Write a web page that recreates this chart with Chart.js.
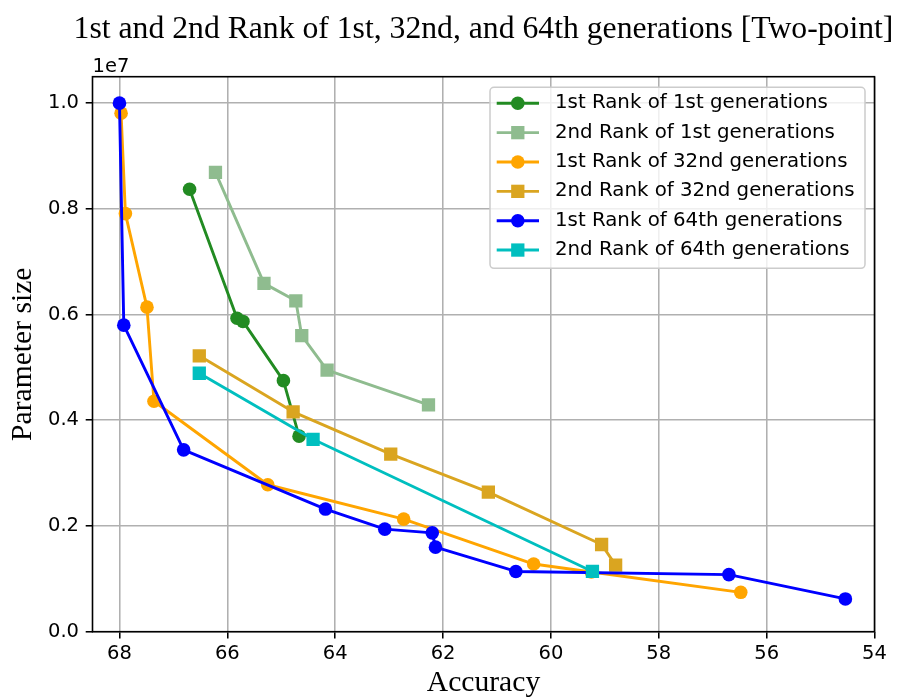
<!DOCTYPE html>
<html><head><meta charset="utf-8">
<script src="https://cdn.jsdelivr.net/npm/chart.js@4/dist/chart.umd.min.js"></script>
<style>html,body{margin:0;padding:0;background:#fff}#wrap{width:898px;height:697px}</style>
</head><body><div id="wrap"><canvas id="c" width="898" height="697"></canvas></div>
<script>
const chartTitle = '1st and 2nd Rank of 1st, 32nd, and 64th generations [Two-point]';
const xAxisLabel = 'Accuracy';
const yAxisLabel = 'Parameter size';
const offsetText = '1e7';
const seriesLabels = [
  '1st Rank of 1st generations',
  '2nd Rank of 1st generations',
  '1st Rank of 32nd generations',
  '2nd Rank of 32nd generations',
  '1st Rank of 64th generations',
  '2nd Rank of 64th generations'
];
const xTicks = [68, 66, 64, 62, 60, 58, 56, 54];
const yTicks = [0, 2000000, 4000000, 6000000, 8000000, 10000000];

const rank1Gen1Acc    = [66.70, 65.82, 65.71, 64.96, 64.67];
const rank1Gen1Params = [8370000, 5930000, 5870000, 4750000, 3700000];
const rank2Gen1Acc    = [66.22, 65.32, 64.73, 64.62, 64.15, 62.27];
const rank2Gen1Params = [8690000, 6590000, 6260000, 5600000, 4950000, 4290000];
const rank1Gen32Acc    = [67.97, 67.89, 67.49, 67.36, 65.25, 62.73, 60.32, 59.25, 56.48];
const rank1Gen32Params = [9810000, 7910000, 6140000, 4360000, 2780000, 2130000, 1280000, 1130000, 745000];
const rank2Gen32Acc    = [66.52, 64.78, 62.97, 61.16, 59.06, 58.80];
const rank2Gen32Params = [5220000, 4160000, 3360000, 2640000, 1650000, 1260000];
const rank1Gen64Acc    = [68.00, 67.92, 66.81, 64.18, 63.08, 62.20, 62.14, 60.65, 56.70, 54.54];
const rank1Gen64Params = [10000000, 5800000, 3440000, 2320000, 1940000, 1870000, 1600000, 1140000, 1080000, 620000];
const rank2Gen64Acc    = [66.52, 64.41, 59.23];
const rank2Gen64Params = [4890000, 3640000, 1140000];

const seriesAcc = [rank1Gen1Acc, rank2Gen1Acc, rank1Gen32Acc, rank2Gen32Acc, rank1Gen64Acc, rank2Gen64Acc];
const seriesParams = [rank1Gen1Params, rank2Gen1Params, rank1Gen32Params, rank2Gen32Params, rank1Gen64Params, rank2Gen64Params];
const seriesColors = ['#228B22', '#8FBC8F', '#FFA500', '#DAA520', '#0000FF', '#00BFBF'];
const seriesMarkers = ['circle', 'rect', 'circle', 'rect', 'circle', 'rect'];

const SANS = "'DejaVu Sans', sans-serif";
const SERIF = "'Liberation Serif', 'Times New Roman', serif";
const CIRCLE_R = 6.8;
const RECT_R = 9.4;

const datasets = seriesLabels.map((lab, i) => ({
  label: lab,
  data: seriesAcc[i].map((x, j) => ({x: x, y: seriesParams[i][j]})),
  borderColor: seriesColors[i],
  backgroundColor: seriesColors[i],
  pointBackgroundColor: seriesColors[i],
  pointBorderWidth: 0,
  pointStyle: seriesMarkers[i],
  pointRadius: seriesMarkers[i] === 'circle' ? CIRCLE_R : RECT_R,
  pointHoverRadius: seriesMarkers[i] === 'circle' ? CIRCLE_R : RECT_R,
  borderWidth: 2.9,
  borderJoinStyle: 'round',
  tension: 0,
  fill: false,
  order: seriesLabels.length - i
}));

// centre the title over the plot area and give it room to its natural width
const titleCenterPlugin = {
  id: 'titleCenter',
  afterLayout(chart) {
    const tb = chart.titleBlock;
    if (!tb) return;
    const a = chart.chartArea;
    const cx = (a.left + a.right) / 2;
    const half = chart.width / 2;
    tb.left = cx - half;
    tb.right = cx + half;
    tb.width = half * 2;
  }
};

const framePlugin = {
  id: 'frame',
  afterDatasetsDraw(chart) {
    const {ctx, chartArea: a} = chart;
    ctx.save();
    ctx.strokeStyle = '#000';
    ctx.lineWidth = 1.6;
    ctx.strokeRect(a.left, a.top, a.right - a.left, a.bottom - a.top);
    ctx.font = '19.5px ' + SANS;
    ctx.fillStyle = '#000';
    ctx.textAlign = 'left';
    ctx.textBaseline = 'alphabetic';
    ctx.fillText(offsetText, a.left, a.top - 5);
    ctx.restore();
  }
};

const legendPlugin = {
  id: 'customLegend',
  afterDraw(chart) {
    const {ctx} = chart;
    const bx = 490, by = 87.3, bw = 375, bh = 181, r = 4;
    ctx.save();
    ctx.beginPath();
    ctx.moveTo(bx + r, by);
    ctx.lineTo(bx + bw - r, by);
    ctx.arcTo(bx + bw, by, bx + bw, by + r, r);
    ctx.lineTo(bx + bw, by + bh - r);
    ctx.arcTo(bx + bw, by + bh, bx + bw - r, by + bh, r);
    ctx.lineTo(bx + r, by + bh);
    ctx.arcTo(bx, by + bh, bx, by + bh - r, r);
    ctx.lineTo(bx, by + r);
    ctx.arcTo(bx, by, bx + r, by, r);
    ctx.closePath();
    ctx.fillStyle = 'rgba(255,255,255,0.8)';
    ctx.fill();
    ctx.strokeStyle = '#cccccc';
    ctx.lineWidth = 1.5;
    ctx.stroke();
    chart.data.datasets.forEach((ds, i) => {
      const cy = 103.3 + i * 29.35;
      ctx.strokeStyle = ds.borderColor;
      ctx.lineWidth = ds.borderWidth;
      ctx.beginPath();
      ctx.moveTo(496.7, cy);
      ctx.lineTo(539, cy);
      ctx.stroke();
      ctx.fillStyle = ds.borderColor;
      Chart.helpers.drawPoint(ctx, {pointStyle: ds.pointStyle, radius: ds.pointRadius, borderWidth: 0, rotation: 0}, 517.8, cy);
      ctx.fillStyle = '#000';
      ctx.font = '19.8px ' + SANS;
      ctx.textAlign = 'left';
      ctx.textBaseline = 'middle';
      ctx.fillText(ds.label, 555, cy);
    });
    ctx.restore();
  }
};

new Chart(document.getElementById('c'), {
  type: 'line',
  data: {datasets: datasets},
  plugins: [titleCenterPlugin, framePlugin, legendPlugin],
  options: {
    responsive: false,
    animation: false,
    devicePixelRatio: 1,
    layout: {padding: {left: 0, right: 23.5, top: 0, bottom: 0}},
    plugins: {
      legend: {display: false},
      tooltip: {enabled: false},
      title: {
        display: true,
        text: chartTitle,
        fullSize: false,
        color: '#000',
        font: {family: SERIF, size: 31.7, weight: 'normal', lineHeight: 1},
        padding: {top: 14.15, bottom: 30.85}
      }
    },
    scales: {
      x: {
        type: 'linear',
        min: 54,
        max: 68.5,
        reverse: true,
        afterFit(s) { s.height = 65.3; },
        afterBuildTicks(s) { s.ticks = xTicks.map(v => ({value: v})); },
        border: {display: false},
        grid: {color: '#b0b0b0', lineWidth: 1.56, tickColor: '#000', tickLength: 6.8, tickWidth: 1.56},
        ticks: {autoSkip: false, maxRotation: 0, minRotation: 0, padding: 3.8, color: '#000',
                font: {family: SANS, size: 19.5}, callback: v => String(v)},
        title: {display: true, text: xAxisLabel, color: '#000',
                font: {family: SERIF, size: 29.6, weight: 'normal', lineHeight: 1},
                padding: {top: 0, bottom: -1}}
      },
      y: {
        type: 'linear',
        min: 0,
        max: 10500000,
        afterFit(s) { s.width = 92.5; },
        afterBuildTicks(s) { s.ticks = yTicks.map(v => ({value: v})); },
        border: {display: false},
        grid: {color: '#b0b0b0', lineWidth: 1.56, tickColor: '#000', tickLength: 6.8, tickWidth: 1.56},
        ticks: {autoSkip: false, padding: 6.7, color: '#000',
                font: {family: SANS, size: 19.5}, callback: v => (v / 1e7).toFixed(1)},
        title: {display: true, text: yAxisLabel, color: '#000',
                font: {family: SERIF, size: 29.6, weight: 'normal', lineHeight: 1},
                padding: {top: 8.7, bottom: 0}}
      }
    }
  }
});
</script>
</body></html>
